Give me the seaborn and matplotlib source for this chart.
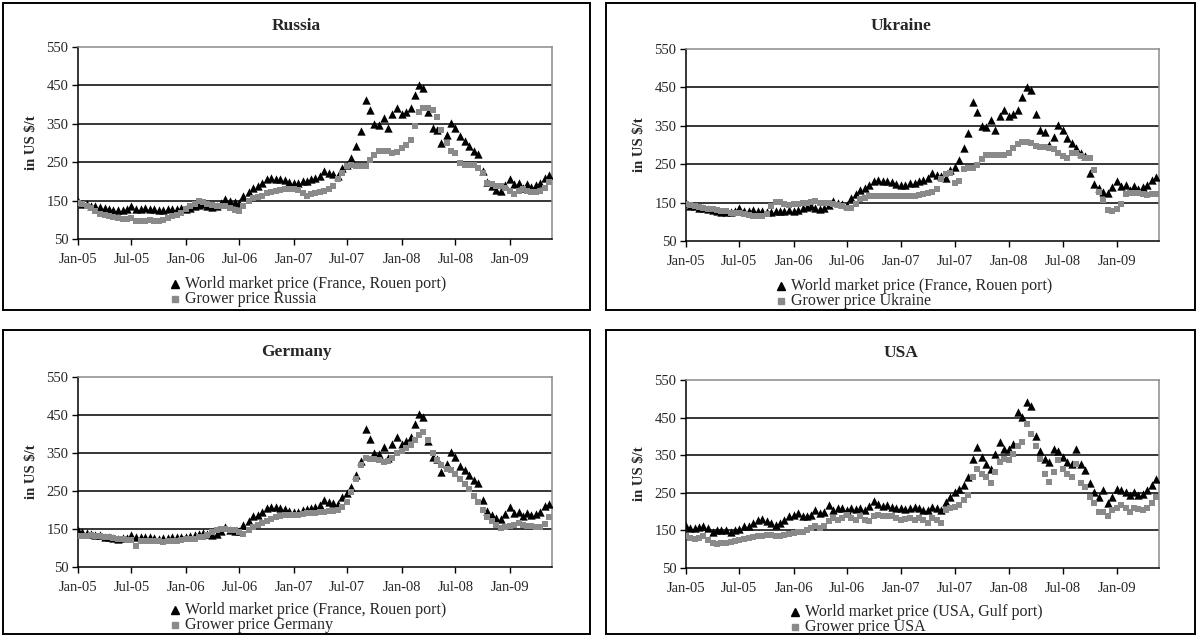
import matplotlib
matplotlib.use("Agg")
import matplotlib.pyplot as plt
import matplotlib.dates as mdates
from matplotlib.patches import Rectangle
from matplotlib.lines import Line2D
import pandas as pd
import seaborn as sns

# ---------------- data (semi-monthly readings, US $/t) ----------------
dates = pd.to_datetime([f"{y}-{m:02d}-{d:02d}" for y in range(2005, 2010)
                        for m in range(1, 13) for d in (1, 15) if (y, m) <= (2009, 5)])

world_france = [148,142,140,137,135,133,130,128,126,125,126,127,135,128,128,130,128,127,125,126,127,128,129,130,
                128,131,135,138,140,136,133,137,144,154,148,146,145,161,172,183,187,195,205,208,207,206,203,198,
                196,196,200,202,206,209,213,226,222,218,215,235,244,261,291,330,413,387,350,347,365,338,375,392,
                375,382,392,426,452,444,382,339,335,300,322,352,339,317,304,291,278,272,226,198,187,178,176,190,
                207,192,196,184,192,186,190,196,210,216]

grower_russia = [144,140,135,131,122,116,112,109,107,105,103,102,105,98,96,96,100,96,96,100,105,109,113,118,
                 127,135,142,148,147,142,138,135,135,135,131,125,122,135,148,157,159,161,170,172,174,177,179,179,
                 179,177,170,163,166,170,172,174,179,187,205,222,241,243,241,239,241,257,270,278,280,278,274,277,
                 287,296,309,343,382,391,391,387,369,335,300,278,274,248,244,244,244,235,222,196,192,187,187,183,
                 174,168,174,179,174,172,172,174,183,198]

grower_ukraine = [146,143,141,139,137,134,133,130,128,127,124,124,122,120,117,115,115,115,120,141,152,152,146,144,
                  146,146,148,150,152,153,150,148,148,146,143,140,137,137,146,159,163,166,167,167,166,166,166,166,
                  166,166,166,167,169,172,174,178,185,211,224,228,202,207,237,239,241,247,263,273,273,273,273,273,
                  280,291,302,307,307,305,298,296,296,291,289,280,272,267,280,278,272,267,265,234,178,156,130,128,
                  134,147,173,175,175,175,172,169,173,173]

grower_germany = [132,131,132,134,132,131,130,128,126,125,124,122,121,105,119,119,118,118,118,117,118,119,119,121,
                  124,124,125,128,130,134,141,147,150,150,147,147,141,137,147,154,160,167,170,176,181,185,187,187,
                  188,188,190,191,192,193,194,196,197,197,199,207,221,247,282,318,338,335,333,331,327,328,338,349,
                  355,362,371,384,397,406,384,349,331,318,309,304,296,282,269,256,238,221,199,181,172,161,152,154,
                  157,161,166,161,157,157,154,154,163,181]

world_usa = [162,156,156,158,162,156,145,152,152,150,145,150,154,161,162,171,178,180,174,169,165,169,178,187,
             192,196,187,189,192,203,196,200,218,205,209,209,205,209,207,209,205,214,227,220,214,218,213,209,
             209,206,209,213,209,204,203,213,209,203,226,239,253,261,270,292,340,371,345,327,314,353,384,367,
             367,380,466,452,492,481,402,362,340,332,367,362,345,332,327,367,327,310,275,253,239,257,222,239,
             261,257,251,244,253,244,248,257,270,288]

grower_usa = [134,130,128,131,134,125,116,115,116,116,118,121,125,127,130,132,134,136,138,137,134,136,138,141,
              143,145,147,152,156,161,156,161,174,183,178,183,192,183,178,187,178,174,187,191,189,187,187,182,
              178,180,182,178,182,178,169,182,178,169,204,209,213,218,231,244,292,314,301,292,275,305,332,340,
              336,353,375,384,432,406,375,340,301,279,305,336,314,301,292,327,275,266,240,222,200,200,187,204,
              209,218,209,200,209,207,204,209,222,239]

titles = ["Russia", "Ukraine", "Germany", "USA"]
world_labels = ["World market price (France, Rouen port)", "World market price (France, Rouen port)",
                "World market price (France, Rouen port)", "World market price (USA, Gulf port)"]
grower_labels = ["Grower price Russia", "Grower price Ukraine", "Grower price Germany", "Grower price USA"]
world_series = [world_france, world_france, world_france, world_usa]
grower_series = [grower_russia, grower_ukraine, grower_germany, grower_usa]
y_ticks = [50, 150, 250, 350, 450, 550]

# ---------------- layout ----------------
W, H = 1198, 637
sns.set_theme(style="white")
plt.rcParams["font.family"] = ["Liberation Serif", "DejaVu Serif"]

fig = plt.figure(figsize=(W / 100, H / 100), dpi=100)
fig.patch.set_facecolor("white")

def fx(px):
    return px / W

def fy(py):
    return 1 - py / H

# (panel box), (axes box), title y, legend (marker x, text x, y1, y2)
panels = [
    ((3, 3, 590, 310), (78, 47, 552, 239), 26, (175, 185, 284, 299)),
    ((606, 3, 1195, 310), (686, 49, 1159, 241), 26, (781, 791, 286, 301)),
    ((3, 330, 590, 634), (78, 377, 552, 567), 352, (175, 185, 610, 625)),
    ((606, 330, 1195, 634), (686, 380, 1159, 568), 353, (795, 805, 612, 627)),
]

black = "#000000"
gray = "#8a8a8a"

for i, (pbox, abox, ty, leg) in enumerate(panels):
    x0, y0, x1, y1 = pbox
    fig.add_artist(Rectangle((fx(x0), fy(y1)), fx(x1) - fx(x0), fy(y0) - fy(y1),
                             transform=fig.transFigure, fill=False, ec="black", lw=1.4))
    ax0, ay0, ax1, ay1 = abox
    ax = fig.add_axes([fx(ax0), fy(ay1), fx(ax1) - fx(ax0), fy(ay0) - fy(ay1)])
    ax.set_facecolor("white")

    df = pd.DataFrame({"date": dates, "world": world_series[i], "grower": grower_series[i]})
    sns.scatterplot(data=df, x="date", y="world", ax=ax, marker="^", color=black,
                    s=36, linewidth=0, zorder=3, legend=False)
    sns.scatterplot(data=df, x="date", y="grower", ax=ax, marker="s", color=gray,
                    s=19, linewidth=0, zorder=4, legend=False)

    ax.set_xlim(pd.Timestamp("2005-01-01"), pd.Timestamp("2009-05-24"))
    ax.set_ylim(50, 550)
    ax.set_yticks(y_ticks)
    ax.set_yticklabels([str(v) for v in y_ticks], fontsize=10.5)
    ax.xaxis.set_major_locator(mdates.MonthLocator(bymonth=[1, 7]))
    ax.xaxis.set_major_formatter(mdates.DateFormatter("%b-%y"))
    for lab in ax.get_xticklabels():
        lab.set_fontsize(10.5)
    ax.tick_params(axis="both", direction="out", length=4, width=1, color="black",
                   bottom=True, left=True, pad=3)
    ax.tick_params(axis="x", pad=6)
    ax.yaxis.grid(True, color="black", lw=1.1)
    ax.xaxis.grid(False)
    ax.set_axisbelow(True)
    ticks = ax.yaxis.get_major_ticks()
    ticks[0].gridline.set_visible(False)
    ticks[-1].gridline.set_visible(False)
    for side in ("left", "bottom"):
        ax.spines[side].set_color("black")
        ax.spines[side].set_linewidth(1.1)
    for side in ("top", "right"):
        ax.spines[side].set_color("#8a8a8a")
        ax.spines[side].set_linewidth(1.1)
    ax.set_xlabel("")
    ax.set_ylabel("in US $/t", fontsize=10.5, fontweight="bold", labelpad=6)

    cx = (fx(x0) + fx(x1)) / 2
    fig.text(cx, fy(ty), titles[i], ha="center", va="center", fontsize=12.5, fontweight="bold")

    mx, tx, ly1, ly2 = leg
    fig.add_artist(Line2D([fx(mx)], [fy(ly1)], marker="^", color=black, markersize=5.5,
                          linestyle="none", transform=fig.transFigure))
    fig.add_artist(Line2D([fx(mx)], [fy(ly2)], marker="s", color=gray, markersize=4,
                          linestyle="none", transform=fig.transFigure))
    fig.text(fx(tx), fy(ly1), world_labels[i], ha="left", va="center", fontsize=11.5)
    fig.text(fx(tx), fy(ly2), grower_labels[i], ha="left", va="center", fontsize=11.5)

fig.savefig("out.png", dpi=100, facecolor="white")
